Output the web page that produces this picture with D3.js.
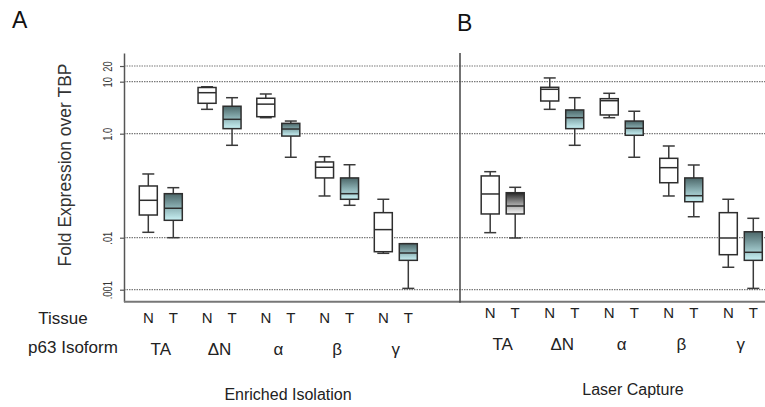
<!DOCTYPE html>
<html>
<head>
<meta charset="utf-8">
<script src="https://cdn.jsdelivr.net/npm/d3@7"></script>
<style>
  body { margin: 0; background: #fff; }
  svg { display: block; font-family: "Liberation Sans", Arial, sans-serif; }
</style>
</head>
<body>
<div id="chart"></div>
<script>
const width = 765;
const height = 407;

const isoforms = ["TA", "ΔN", "α", "β", "γ"];
const tissues = ["N", "T"];
const panelTitles = ["Enriched Isolation", "Laser Capture"];
const yTickValues = [20, 10, 1, 0.01, 0.001];
const yTickLabels = ["20", "10", "1.0", ".01", ".001"];

// [min, q1, median, q3, max] per isoform
const enrichedN = [
    [0.0127, 0.0273, 0.0524, 0.0987, 0.168],
    [2.94, 3.84, 6.14, 7.73, 8.0],
    [2.03, 2.12, 3.7, 4.8, 5.8],
    [0.0634, 0.141, 0.226, 0.286, 0.361],
    [0.00501, 0.00538, 0.0143, 0.0303, 0.0548]
];
const enrichedT = [
    [0.01, 0.0216, 0.0368, 0.0702, 0.0916],
    [0.598, 1.25, 1.89, 3.37, 4.92],
    [0.352, 0.9, 1.23, 1.58, 1.75],
    [0.042, 0.0548, 0.0702, 0.141, 0.253],
    [0.00106, 0.00367, 0.00508, 0.00767, 0.00767]
];
const laserN = [
    [0.0125, 0.0286, 0.0693, 0.154, 0.186],
    [2.94, 4.25, 7.14, 7.8, 11.8],
    [2.03, 2.29, 4.31, 4.71, 5.98],
    [0.0634, 0.114, 0.222, 0.336, 0.58],
    [0.0027, 0.00471, 0.00987, 0.0303, 0.0548]
];
const laserT = [
    [0.00987, 0.0286, 0.0407, 0.0733, 0.0931],
    [0.598, 1.25, 2.03, 2.86, 4.92],
    [0.352, 0.932, 1.27, 1.75, 2.7],
    [0.0253, 0.0492, 0.0642, 0.141, 0.25],
    [0.00106, 0.00367, 0.00524, 0.013, 0.0236]
];

const svg = d3.select("#chart").append("svg")
    .attr("width", width)
    .attr("height", height);

const defs = svg.append("defs");
function addGradient(id, top, mid, bottom) {
    const g = defs.append("linearGradient")
        .attr("id", id)
        .attr("x1", 0).attr("y1", 0).attr("x2", 0).attr("y2", 1);
    g.append("stop").attr("offset", "0%").attr("stop-color", top);
    g.append("stop").attr("offset", "50%").attr("stop-color", mid);
    g.append("stop").attr("offset", "100%").attr("stop-color", bottom);
}
addGradient("teal", "#4c6769", "#8aafb2", "#c9f1f4");
addGradient("grey", "#262626", "#9a9a9a", "#f4f4f4");

const yScale = d3.scaleLog()
    .domain([0.000588, 35.6])
    .range([301.7, 53]);

const axisX = 124;
const panelRight = 765;
const dividerX = 460;

// gridlines
svg.append("g")
    .selectAll("line")
    .data(yTickValues)
    .join("line")
    .attr("x1", axisX)
    .attr("x2", panelRight)
    .attr("y1", d => yScale(d))
    .attr("y2", d => yScale(d))
    .attr("stroke", "#7a7a7a")
    .attr("stroke-width", 1.2)
    .attr("stroke-dasharray", "1.5,1");

// y axis
const yAxis = d3.axisLeft(yScale)
    .tickValues(yTickValues)
    .tickFormat((d, i) => yTickLabels[i])
    .tickSize(4)
    .tickSizeOuter(0);

const yAxisG = svg.append("g")
    .attr("transform", `translate(${axisX},0)`)
    .call(yAxis);
yAxisG.select(".domain").attr("stroke", "#555").attr("stroke-width", 1.5);
yAxisG.selectAll(".tick line").attr("stroke", "#555").attr("stroke-width", 1.2);
// labels are rotated and squeezed along the reading direction, like the original
yAxisG.selectAll(".tick text")
    .attr("transform", "rotate(-90) scale(0.72,1)")
    .attr("x", 0)
    .attr("y", -12)
    .attr("dy", 0)
    .attr("text-anchor", "middle")
    .attr("fill", "#333")
    .style("font-size", "13px")
    .style("font-family", "'Liberation Sans', Arial, sans-serif");

svg.append("text")
    .attr("transform", "translate(71,165) rotate(-90)")
    .attr("text-anchor", "middle")
    .attr("fill", "#333")
    .style("font-size", "17.5px")
    .text("Fold Expression over TBP");

// bottom line and divider
svg.append("line")
    .attr("x1", axisX).attr("x2", panelRight)
    .attr("y1", yScale.range()[0]).attr("y2", yScale.range()[0])
    .attr("stroke", "#777").attr("stroke-width", 2);

svg.append("line")
    .attr("x1", dividerX).attr("x2", dividerX)
    .attr("y1", yScale.range()[1]).attr("y2", yScale.range()[0] + 1)
    .attr("stroke", "#444").attr("stroke-width", 1.5);

// panel letters
svg.append("text").attr("x", 12).attr("y", 28)
    .style("font-size", "23px").attr("fill", "#111").text("A");
svg.append("text").attr("x", 457).attr("y", 31)
    .style("font-size", "23px").attr("fill", "#111").text("B");

// row headers
svg.append("text").attr("x", 63).attr("y", 324)
    .attr("text-anchor", "middle").attr("fill", "#222")
    .style("font-size", "17px").text("Tissue");
svg.append("text").attr("x", 73).attr("y", 353)
    .attr("text-anchor", "middle").attr("fill", "#222")
    .style("font-size", "17px").text("p63 Isoform");

const tissueScale = d3.scalePoint().domain(tissues).range([-12.5, 12.5]);
const boxWidth = 18;
const capWidth = 12;

const panels = [
    { title: panelTitles[0], n: enrichedN, t: enrichedT, range: [160.8, 395.8],
      tissueY: 323, isoY: 355, titleX: 288, titleY: 400 },
    { title: panelTitles[1], n: laserN, t: laserT, range: [502.7, 740.8],
      tissueY: 318, isoY: 350, titleX: 633, titleY: 395 }
];

panels.forEach((panel, p) => {
    const xScale = d3.scalePoint().domain(isoforms).range(panel.range);

    const boxes = [];
    isoforms.forEach((iso, i) => {
        boxes.push({ iso, tissue: "N", stats: panel.n[i] });
        boxes.push({ iso, tissue: "T", stats: panel.t[i] });
    });

    const g = svg.append("g");
    const box = g.selectAll(".box")
        .data(boxes)
        .join("g")
        .attr("class", "box")
        .attr("transform", d => `translate(${xScale(d.iso) + tissueScale(d.tissue)},0)`);

    // whiskers
    box.append("line")
        .attr("x1", 0).attr("x2", 0)
        .attr("y1", d => yScale(d.stats[0]))
        .attr("y2", d => yScale(d.stats[4]))
        .attr("stroke", "#3a3a3a").attr("stroke-width", 1.5);
    box.selectAll(".cap")
        .data(d => [d.stats[0], d.stats[4]])
        .join("line")
        .attr("class", "cap")
        .attr("x1", -capWidth / 2).attr("x2", capWidth / 2)
        .attr("y1", v => yScale(v)).attr("y2", v => yScale(v))
        .attr("stroke", "#3a3a3a").attr("stroke-width", 1.5);

    box.append("rect")
        .attr("x", -boxWidth / 2)
        .attr("width", boxWidth)
        .attr("y", d => yScale(d.stats[3]))
        .attr("height", d => yScale(d.stats[1]) - yScale(d.stats[3]))
        .attr("fill", d => {
            if (d.tissue === "N") return "#fff";
            if (p === 1 && d.iso === "TA") return "url(#grey)";
            return "url(#teal)";
        })
        .attr("stroke", "#2e2e2e").attr("stroke-width", 1.5);

    box.append("line")
        .attr("x1", -boxWidth / 2).attr("x2", boxWidth / 2)
        .attr("y1", d => yScale(d.stats[2])).attr("y2", d => yScale(d.stats[2]))
        .attr("stroke", "#2e2e2e").attr("stroke-width", 1.5);

    // tissue labels
    g.selectAll(".tissue-label")
        .data(boxes)
        .join("text")
        .attr("class", "tissue-label")
        .attr("x", d => xScale(d.iso) + tissueScale(d.tissue))
        .attr("y", panel.tissueY)
        .attr("text-anchor", "middle")
        .attr("fill", "#222")
        .style("font-size", "15px")
        .text(d => d.tissue);

    // isoform labels
    g.selectAll(".iso-label")
        .data(isoforms)
        .join("text")
        .attr("class", "iso-label")
        .attr("x", d => xScale(d))
        .attr("y", panel.isoY)
        .attr("text-anchor", "middle")
        .attr("fill", "#222")
        .style("font-size", "17px")
        .text(d => d);

    g.append("text")
        .attr("x", panel.titleX)
        .attr("y", panel.titleY)
        .attr("text-anchor", "middle")
        .attr("fill", "#222")
        .style("font-size", "16px")
        .text(panel.title);
});
</script>
</body>
</html>
